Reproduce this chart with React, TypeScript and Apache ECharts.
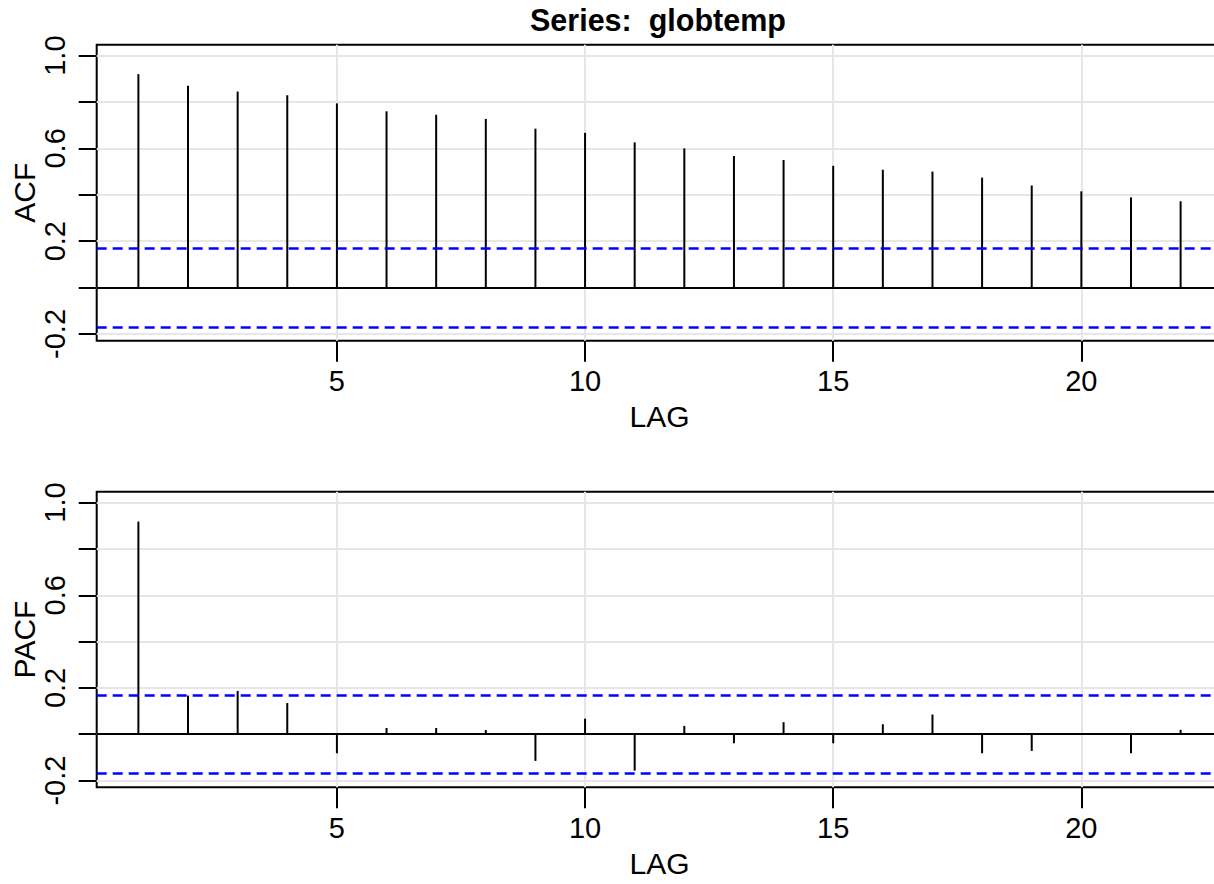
import { useEffect, useRef } from 'react';
import * as echarts from 'echarts';

const seriesTitle = 'Series:  globtemp';
const lags = [1, 2, 3, 4, 5, 6, 7, 8, 9, 10, 11, 12, 13, 14, 15, 16, 17, 18, 19, 20, 21, 22];
const acfValues = [0.92, 0.87, 0.845, 0.829, 0.794, 0.76, 0.745, 0.727, 0.685, 0.667, 0.626, 0.6, 0.567, 0.55, 0.525, 0.508, 0.5, 0.474, 0.44, 0.415, 0.389, 0.372];
const pacfValues = [0.918, 0.167, 0.187, 0.135, -0.082, 0.027, 0.027, 0.018, -0.115, 0.067, -0.157, 0.036, -0.039, 0.052, -0.039, 0.043, 0.085, -0.082, -0.072, 0.003, -0.082, 0.019];
const confBound = 0.1715;
const yTicks = [-0.2, 0, 0.2, 0.4, 0.6, 0.8, 1.0];
const yTickLabels = [-0.2, 0.2, 0.6, 1.0];
const xTicks = [5, 10, 15, 20];
const panelNames = ['ACF', 'PACF'];

const FONT = "'Liberation Sans', Arial, sans-serif";

export default function App() {
  const ref = useRef<HTMLDivElement>(null);
  useEffect(() => {
    if (!ref.current) return;
    const chart = echarts.init(ref.current, undefined, { renderer: 'svg' });
    const gridLeft = 96.7;
    const gridWidth = 1125.6;
    const grids = [
      { left: gridLeft, width: gridWidth, top: 44.7, height: 296 },
      { left: gridLeft, width: gridWidth, top: 491.7, height: 295.6 },
    ].map((g) => ({
      ...g,
      show: true,
      borderColor: '#000',
      borderWidth: 2,
      backgroundColor: 'transparent',
      containLabel: false,
      outerBoundsMode: 'none',
    }));

    const xAxes = [0, 1].map((i) => ({
      type: 'value',
      gridIndex: i,
      min: 0.16,
      max: 22.84,
      axisLine: { show: false, onZero: false },
      axisTick: { show: true, customValues: xTicks, length: 21, lineStyle: { color: '#000', width: 2 } },
      axisLabel: { customValues: xTicks, margin: 26, fontSize: 29, color: '#000', fontFamily: FONT },
      splitLine: { show: false },
      name: 'LAG',
      nameLocation: 'middle',
      nameGap: 61,
      nameMoveOverlap: false,
      nameTextStyle: { fontSize: 30, color: '#000', fontFamily: FONT },
    }));

    const yAxes = [0, 1].map((i) => ({
      type: 'value',
      gridIndex: i,
      min: -0.229,
      max: 1.047,
      axisLine: { show: false, onZero: false },
      axisTick: { show: true, customValues: yTicks, length: 18, lineStyle: { color: '#000', width: 2 } },
      axisLabel: {
        customValues: yTickLabels,
        rotate: 90,
        margin: 27,
        fontSize: 29,
        color: '#000',
        fontFamily: FONT,
        formatter: (v: number) => v.toFixed(1),
      },
      splitLine: { show: false },
      name: panelNames[i],
      nameLocation: 'middle',
      nameGap: 57,
      nameMoveOverlap: false,
      nameTextStyle: { fontSize: 30, color: '#000', fontFamily: FONT },
    }));

    const valuesByPanel = [acfValues, pacfValues];
    const series: any[] = [];
    [0, 1].forEach((i) => {
      const data = lags.map((l, k) => [l, valuesByPanel[i][k]]);
      series.push({
        type: 'line',
        xAxisIndex: i,
        yAxisIndex: i,
        data,
        symbol: 'none',
        lineStyle: { width: 0, opacity: 0 },
        z: 1,
        silent: true,
        markLine: {
          z: 1,
          silent: true,
          symbol: ['none', 'none'],
          label: { show: false },
          lineStyle: { color: '#e6e6e6', width: 2, type: 'solid' },
          data: [
            ...yTicks.map((v) => ({ yAxis: v })),
            ...xTicks.map((v) => ({ xAxis: v })),
          ],
        },
      });
      series.push({
        type: 'bar',
        xAxisIndex: i,
        yAxisIndex: i,
        data,
        barWidth: 2,
        itemStyle: { color: '#000' },
        z: 3,
        silent: true,
        markLine: {
          z: 5,
          silent: true,
          symbol: ['none', 'none'],
          label: { show: false },
          data: [
            { yAxis: 0, lineStyle: { color: '#000', width: 2, type: 'solid' } },
            { yAxis: confBound, lineStyle: { color: '#0000ff', width: 2.5, type: [10, 6] } },
            { yAxis: -confBound, lineStyle: { color: '#0000ff', width: 2.5, type: [10, 6] } },
          ],
        },
      });
    });

    chart.setOption({
      animation: false,
      backgroundColor: '#fff',
      title: {
        text: seriesTitle,
        left: 530,
        top: 4,
        padding: 0,
        textStyle: { fontSize: 30.5, fontWeight: 'bold', color: '#000', fontFamily: FONT },
      },
      grid: grids,
      xAxis: xAxes,
      yAxis: yAxes,
      series,
    });
    return () => chart.dispose();
  }, []);
  return <div ref={ref} style={{ position: 'fixed', left: 0, top: 0, width: 1214, height: 884 }} />;
}
